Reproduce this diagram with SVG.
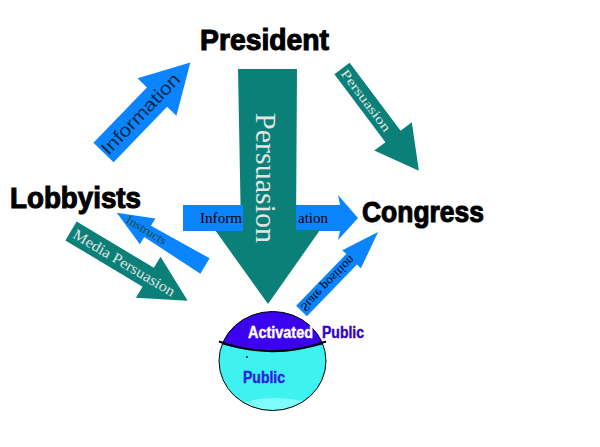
<svg xmlns="http://www.w3.org/2000/svg" width="600" height="447" viewBox="0 0 600 447">
<style>
.node{font-family:"Liberation Sans",Arial,sans-serif;font-weight:bold;fill:#000;stroke:#000;stroke-width:1.1}
.blue{fill:#0a84ff}
.teal{fill:#0a8079}
.serif{font-family:"Liberation Serif","Times New Roman",serif}
.sans{font-family:"Liberation Sans",Arial,sans-serif}
.lt{fill:#e4e4e4}
.pub{font-family:"Liberation Sans",Arial,sans-serif;font-weight:bold;stroke-width:0.4}
</style>
<defs>
<clipPath id="ball"><ellipse cx="272.5" cy="361" rx="53.5" ry="49.5"/></clipPath>
</defs>
<rect width="600" height="447" fill="#fff"/>
<g id="connectors">
  <g id="info-lobby-president" transform="translate(103.5,152.5) rotate(-46)">
    <path class="blue" d="M0,-14 L77,-14 L77,-27 L125,0 L77,27 L77,14 L0,14 Z"/>
    <text class="sans" x="1" y="6" font-size="18" fill="#0b2a48" textLength="105" lengthAdjust="spacingAndGlyphs">Information</text>
  </g>
  <g id="pers-president-congress" transform="translate(342,68.5) rotate(53.1)">
    <path class="teal" d="M0,-9.5 L85,-9.5 L85,-23.5 L128,0 L85,23.5 L85,9.5 L0,9.5 Z"/>
    <text class="serif lt" x="3" y="4.5" font-size="13" textLength="74" lengthAdjust="spacingAndGlyphs">Persuasion</text>
  </g>
  <g id="info-lobby-congress">
    <polygon class="blue" points="183,205 340,205 338,195 358,218 338,240 340,231 183,231"/>
  </g>
  <g id="pers-president-public">
    <polygon class="teal" points="238,69 297,69 296,230 320,230 268,304 215,230 241,230"/>
    <text class="serif lt" transform="translate(256,113) rotate(90)" font-size="30" textLength="130" lengthAdjust="spacingAndGlyphs">Persuasion</text>
  </g>
  <rect class="blue" x="183" y="205" width="60" height="26"/>
  <text class="serif" x="200" y="223" font-size="15" fill="#000" textLength="42" lengthAdjust="spacingAndGlyphs">Inform</text>
  <text class="serif" x="298" y="223" font-size="15" fill="#000" textLength="30" lengthAdjust="spacingAndGlyphs">ation</text>
  <g id="instructs-public-lobby">
    <g transform="translate(205,266) rotate(211.06)">
      <path class="blue" d="M0,-9 L67,-6.5 L67,-15 L103,0 L67,15 L67,6.5 L0,9 Z"/>
    </g>
    <text class="serif" transform="translate(125,222) rotate(31)" font-size="12" fill="#0f4a32" textLength="45" lengthAdjust="spacingAndGlyphs">Instructs</text>
  </g>
  <g id="media-lobby-public" transform="translate(71,231) rotate(30.9)">
    <path class="teal" d="M0,-11 L90,-11 L90,-24 L136,0 L90,24 L90,11 L0,11 Z"/>
    <text class="serif lt" x="4" y="5" font-size="15" textLength="116" lengthAdjust="spacingAndGlyphs">Media Persuasion</text>
  </g>
  <g id="state-public-congress" transform="translate(301.5,311) rotate(-45.9)">
    <path class="blue" d="M0,-7.5 L72,-7.5 L72,-13 L110,0 L72,13 L72,7.5 L0,7.5 Z"/>
    <text class="serif" transform="scale(1,-1)" x="2" y="4" font-size="12.5" fill="#000" textLength="72" lengthAdjust="spacingAndGlyphs">State position</text>
  </g>
</g>
<g id="president"><text class="node" x="200" y="50" font-size="30" textLength="129" lengthAdjust="spacingAndGlyphs">President</text></g>
<g id="lobbyists"><text class="node" x="10" y="208" font-size="29" textLength="131" lengthAdjust="spacingAndGlyphs">Lobbyists</text></g>
<g id="congress"><text class="node" x="362" y="222" font-size="30" textLength="122" lengthAdjust="spacingAndGlyphs">Congress</text></g>
<g id="public">
  <g clip-path="url(#ball)">
    <rect x="215" y="305" width="120" height="110" fill="#3ef2f2"/>
    <ellipse cx="275" cy="412" rx="42" ry="14" fill="#7ffcfc"/>
    <path d="M210,341 Q272,361 335,341 L335,300 L210,300 Z" fill="#3c00f0"/>
  </g>
  <ellipse cx="272.5" cy="361" rx="53.5" ry="49.5" fill="none" stroke="#000" stroke-width="1"/>
  <path d="M219,341.5 Q272,361 326,341.5" fill="none" stroke="#000" stroke-width="2"/>
  <circle cx="247" cy="357" r="1" fill="#000"/>
  <text class="pub" x="248" y="338" font-size="16" fill="#fff" stroke="#fff" textLength="65" lengthAdjust="spacingAndGlyphs">Activated</text>
  <text class="pub" x="322" y="338" font-size="16" fill="#3300c8" stroke="#3300c8" textLength="42" lengthAdjust="spacingAndGlyphs">Public</text>
  <text class="pub" x="243" y="383" font-size="16" fill="#2a1ee0" stroke="#2a1ee0" textLength="42" lengthAdjust="spacingAndGlyphs">Public</text>
</g>
</svg>
